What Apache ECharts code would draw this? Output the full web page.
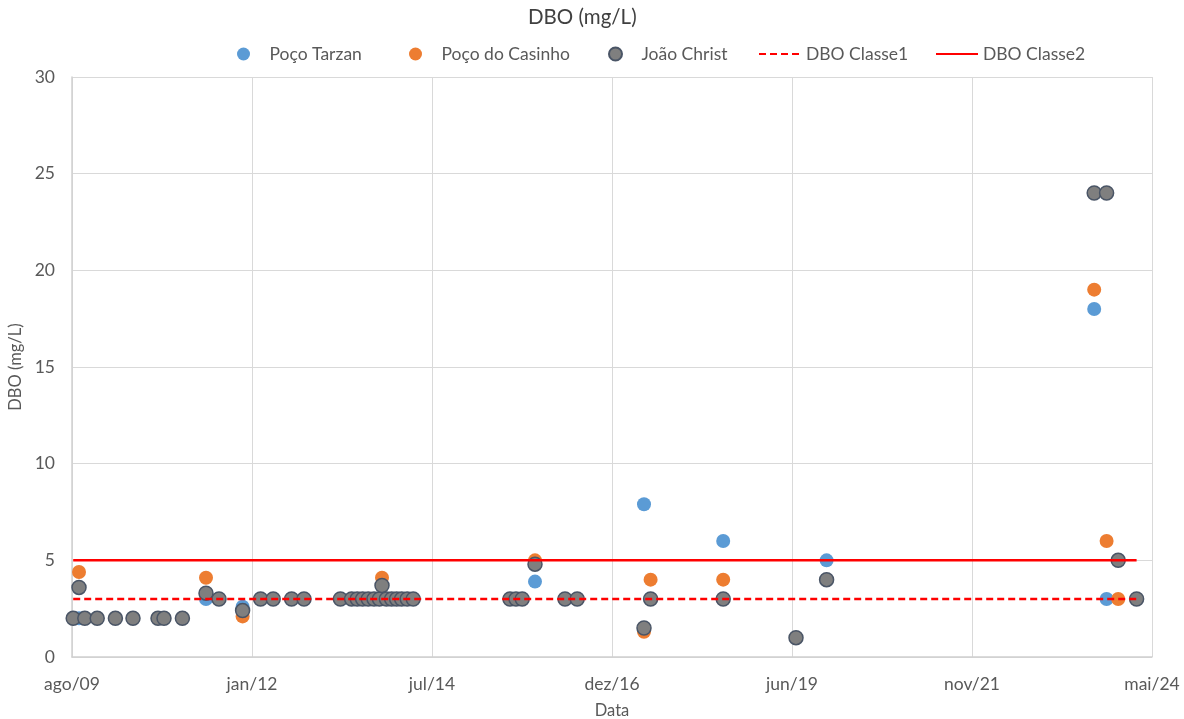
<!DOCTYPE html>
<html>
<head>
<meta charset="utf-8">
<script src="https://cdn.jsdelivr.net/npm/echarts@6/dist/echarts.min.js"></script>
<style>html,body{margin:0;padding:0;background:#fff}#c{width:1184px;height:719px}</style>
</head>
<body>
<div id="c"></div>
<script>
// ---- data ----
const dates = [
  '2009-08-07','2009-09-05','2009-10-04','2009-12-05','2010-03-06','2010-06-02','2010-10-05','2010-11-04',
  '2011-02-04','2011-06-02','2011-08-06','2011-12-02','2012-03-01','2012-05-03','2012-08-03','2012-10-04',
  '2013-04-04','2013-05-30','2013-06-27','2013-07-24','2013-08-21','2013-09-19','2013-10-16','2013-10-29',
  '2013-11-20','2013-12-16','2014-01-10','2014-02-04','2014-03-04','2014-04-03',
  '2015-07-31','2015-08-30','2015-09-30','2015-12-03','2016-05-01','2016-07-01',
  '2017-05-31','2017-07-03','2018-07-01','2019-06-30','2019-11-30',
  '2023-07-30','2023-09-30','2023-11-27','2024-02-27'
];
const pocoTarzan = [
  null, 2, null, null, null, null, null, null,
  null, 3, null, 2.6, null, null, null, null,
  null, null, null, null, null, null, null, 3,
  null, null, null, null, null, null,
  null, null, null, 3.9, null, null,
  7.9, null, 6, null, 5,
  18, 3, null, null
];
const pocoCasinho = [
  null, 4.4, null, null, null, null, null, null,
  null, 4.1, null, 2.1, null, null, null, null,
  null, null, null, null, null, null, null, 4.1,
  null, null, null, null, null, null,
  null, null, null, 5.0, null, null,
  1.3, 4, 4, null, null,
  19, 6, 3, null
];
const joaoChrist = [
  2, 3.6, 2, 2, 2, 2, 2, 2,
  2, 3.3, 3, 2.4, 3, 3, 3, 3,
  3, 3, 3, 3, 3, 3, 3, 3.7,
  3, 3, 3, 3, 3, 3,
  3, 3, 3, 4.8, 3, 3,
  1.5, 3, 3, 1, 4,
  24, 24, 5, 3
];
const classe1 = 3;
const classe2 = 5;
const axisStart = '2009-08-01';
const xTickStepDays = 900;
const xMaxDays = 5400;
const yTicks = [0, 5, 10, 15, 20, 25, 30];
const monthsPt = ['jan','fev','mar','abr','mai','jun','jul','ago','set','out','nov','dez'];
const legendNames = ['Poço Tarzan', 'Poço do Casinho', 'João Christ', 'DBO Classe1', 'DBO Classe2'];

// ---- helpers ----
const DAY = 86400000;
const t0 = Date.parse(axisStart + 'T00:00:00Z');
const dayOf = d => Math.round((Date.parse(d + 'T00:00:00Z') - t0) / DAY);
const pts = vals => dates.map((d, i) => vals[i] == null ? null : [dayOf(d), vals[i]]).filter(p => p);
const lineData = v => dates.map(d => [dayOf(d), v]);
const fmtX = v => {
  const dt = new Date(t0 + v * DAY);
  return monthsPt[dt.getUTCMonth()] + '/' + String(dt.getUTCFullYear()).slice(2);
};

const FONT = 'Lato';
const TXT = '#595959';
const noDot = {color: 'rgba(0,0,0,0)', borderColor: 'rgba(0,0,0,0)', borderWidth: 0};
const legendLeft = [237, 409, 608, 758, 935];
const legends = legendNames.map((n, i) => ({
  top: 45, left: legendLeft[i], padding: 0,
  itemWidth: 42, itemHeight: 13,
  textStyle: {fontFamily: FONT, fontSize: 17.5, color: TXT},
  data: [i >= 3 ? {name: n, itemStyle: noDot} : {name: n}]
}));

const chart = echarts.init(document.getElementById('c'), null, {renderer: 'canvas'});
chart.setOption({
  backgroundColor: '#ffffff',
  animation: false,
  textStyle: {fontFamily: FONT, color: TXT},
  title: {
    text: 'DBO (mg/L)', left: 523, top: 2,
    textStyle: {fontFamily: FONT, fontSize: 20.5, fontWeight: 'normal', color: '#404040'}
  },
  legend: legends,
  grid: {left: 72, right: 32, top: 77, bottom: 62, containLabel: false, outerBoundsMode: 'none'},
  xAxis: {
    type: 'value', min: 0, max: xMaxDays, interval: xTickStepDays,
    name: 'Data', nameLocation: 'middle', nameGap: 45,
    nameTextStyle: {fontFamily: FONT, fontSize: 16.5, color: TXT},
    axisLine: {show: true, lineStyle: {color: '#d0d0d0', width: 1.5}},
    axisTick: {show: false},
    axisLabel: {formatter: fmtX, fontFamily: FONT, fontSize: 17.5, color: TXT, margin: 18},
    splitLine: {show: true, lineStyle: {color: '#d9d9d9', width: 1}}
  },
  yAxis: {
    type: 'value', min: yTicks[0], max: yTicks[yTicks.length - 1], interval: yTicks[1] - yTicks[0],
    name: 'DBO (mg/L)', nameLocation: 'middle', nameGap: 43, nameRotate: 90,
    nameTextStyle: {fontFamily: FONT, fontSize: 16.5, color: TXT},
    axisLine: {show: true, lineStyle: {color: '#d0d0d0', width: 1.5}},
    axisTick: {show: false},
    axisLabel: {fontFamily: FONT, fontSize: 17.5, color: TXT, margin: 17},
    splitLine: {show: true, lineStyle: {color: '#d9d9d9', width: 1}}
  },
  series: [
    {
      name: 'DBO Classe1', type: 'line', symbol: 'none', data: lineData(classe1),
      lineStyle: {color: '#ff0000', width: 2.5, type: [7, 4]}, itemStyle: {color: '#ff0000'}
    },
    {
      name: 'DBO Classe2', type: 'line', symbol: 'none', data: lineData(classe2),
      lineStyle: {color: '#ff0000', width: 2.5, type: 'solid'}, itemStyle: {color: '#ff0000'}
    },
    {
      name: 'Poço Tarzan', type: 'scatter', symbol: 'circle', symbolSize: 14, data: pts(pocoTarzan),
      itemStyle: {color: '#5b9bd5', opacity: 1}
    },
    {
      name: 'Poço do Casinho', type: 'scatter', symbol: 'circle', symbolSize: 14, data: pts(pocoCasinho),
      itemStyle: {color: '#ed7d31', opacity: 1}
    },
    {
      name: 'João Christ', type: 'scatter', symbol: 'circle', symbolSize: 14, data: pts(joaoChrist),
      itemStyle: {color: '#7f7f7f', borderColor: '#4a5566', borderWidth: 1.5, opacity: 1}
    }
  ]
});
</script>
</body>
</html>
